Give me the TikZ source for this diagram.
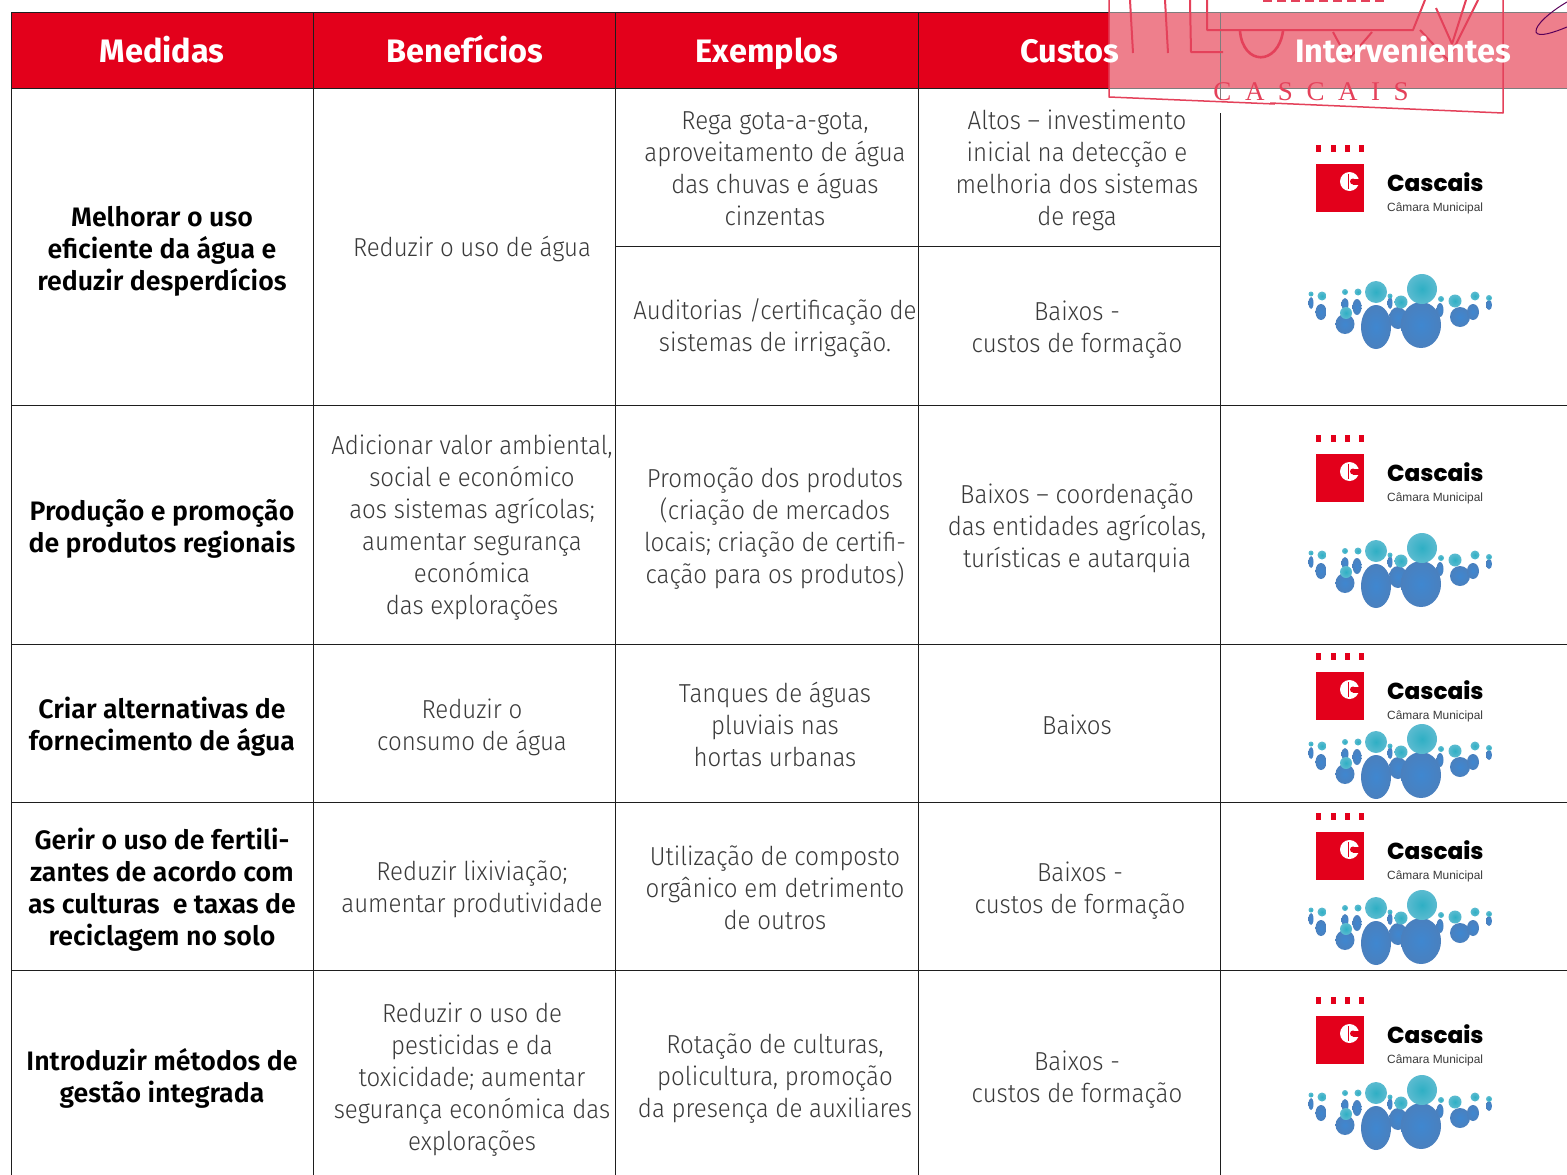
\documentclass[tikz,border=0pt]{standalone}
\usepackage{fontspec}
\setmainfont{Fira Sans Light}[FakeStretch=0.925]
\newfontfamily\headf{Fira Sans SemiBold}
\newfontfamily\capf{Fira Sans}[UprightFont=* Bold]
\newfontfamily\logof{Poppins ExtraBold}
\newfontfamily\logosub{Liberation Sans}
\newfontfamily\stampf{Liberation Serif}
\usetikzlibrary{shapes.geometric}
\definecolor{cred}{HTML}{E3001B}
\definecolor{cpink}{HTML}{EE7F8C}
\definecolor{stamp}{HTML}{E4415A}
\definecolor{grid}{HTML}{1E1E1E}
\definecolor{gridp}{HTML}{7D7D7D}
\definecolor{txt}{HTML}{3A3A3A}
\definecolor{pbody}{HTML}{3F87D0}
\definecolor{pbodyd}{HTML}{4A80BE}
\definecolor{phead}{HTML}{2FAFC4}
\definecolor{pheadl}{HTML}{5BBBD0}
\newcommand{\bodyfs}{\fontsize{26}{32}\selectfont}
\newcommand{\boldfs}{\fontsize{26.7}{32}\selectfont\headf}
\newcommand{\headfs}{\fontsize{32.5}{36}\selectfont\capf}
\newcommand{\person}[7]{%
 \shade[inner color=pbody,outer color=pbodyd] (#1,#2) ellipse [x radius=#3,y radius=#4];
 \shade[inner color=phead,outer color=pheadl] (#5,#6) circle [radius=#7];}
\newcommand{\logoblock}[2]{%
 \begin{scope}[shift={(0,#1)}]
  \foreach \dx in {1316,1330.5,1345,1359} \fill[cred] (\dx,0) rectangle ++(5,7);
  \fill[cred] (1316,19) rectangle (1364,67);
  \fill[white] (1349.5,36.5) circle [radius=9.5];
  \fill[cred] (1353,36.5) circle [radius=3];
  \fill[cred] (1353,33.5) rectangle (1361,39.5);
  \fill[cred] (1347.5,29) rectangle (1348.7,44);
  \node[anchor=base west,inner sep=0,text=black,font=\fontsize{23.1}{24}\logof] at (1387,46) {Cascais};
  \node[anchor=base west,inner sep=0,text=txt,font=\fontsize{11.9}{13}\logosub] at (1387,66.5) {Câmara Municipal};
 \end{scope}
 \begin{scope}[shift={(1307,#2)}]
  \person{4}{29}{2.5}{6}{4}{20}{2.5}
  \person{14}{38}{5.5}{8}{15}{22}{4.5}
  \person{38}{30}{3.5}{6}{38}{18}{3}
  \person{50}{33}{4.5}{8}{51}{18}{3.5}
  \person{38}{50}{9.5}{10}{39}{39}{6}
  \person{83}{29}{2.5}{6}{83}{22}{2.5}
  \person{69}{53}{15}{22}{69}{18}{11}
  \person{91}{44}{9}{11}{94}{28}{6.5}
  \person{114}{51}{20}{23}{115}{15}{15}
  \person{133}{36}{3.5}{7}{134}{25}{3}
  \person{153}{43}{10}{10}{148}{27}{6.5}
  \person{166}{38}{6}{8}{168}{22}{4.5}
  \person{182}{31}{3}{5}{182}{24}{3}
 \end{scope}}
\tikzset{
 gridline/.style={draw=grid,line width=0.9pt},
 gridpink/.style={draw=gridp,line width=0.9pt},
 stampline/.style={draw=stamp,line width=2pt,line join=round},
 headcell/.style={text=white,font=\headfs,inner sep=0,align=center,anchor=base},
 boldcell/.style={text=black,font=\boldfs,inner sep=0,align=center,yshift=-2.5pt},
 cell/.style={text=txt,font=\bodyfs,inner sep=0,align=center,yshift=-1.5pt}
}
\begin{document}
\begin{tikzpicture}[x=1pt,y=-1pt]
\useasboundingbox (0,0) rectangle (1567,1175);
\fill[white] (0,0) rectangle (1567,1175);
% header
\fill[cred] (11.5,12) rectangle (1109,88);
\fill[cpink] (1109,12) rectangle (1567,88);
% grid
\draw[gridline] (11.5,12) -- (1109,12);
\draw[gridline] (11.5,88) -- (1109,88);
\draw[gridpink] (1109,12) -- (1567,12);
\draw[gridpink] (1109,88) -- (1567,88);
\draw[gridline] (11.5,405) -- (1567,405);
\draw[gridline] (11.5,644) -- (1567,644);
\draw[gridline] (11.5,802) -- (1567,802);
\draw[gridline] (11.5,970) -- (1567,970);
\draw[gridline] (615.5,246) -- (1220.5,246);
\foreach \gx in {11.5,313.5,615.5,918.5} \draw[gridline] (\gx,12) -- (\gx,1175);
\draw[gridpink] (1220.5,12) -- (1220.5,100);
\draw[gridline] (1220.5,113) -- (1220.5,1175);
% stamp
\begin{scope}[stampline]
 \draw[line width=1.5pt] (1109,0) -- (1109,97) -- (1180,100) -- (1275,104);
 \draw[line width=1.5pt] (1270,103) -- (1503,113) -- (1503,0);
 \draw (1130,0) -- (1133,53);
 \draw (1165,0) -- (1168,53);
 \draw (1190,0) -- (1191,52) -- (1223,52);
 \draw (1207,0) -- (1207,30) -- (1413,30) -- (1425,0);
 \draw[line width=2.6pt] (1240,31) .. controls (1243,66) and (1278,66) .. (1283,31);
 \draw (1333,32) -- (1348,60) -- (1372,32);
 \draw (1420,30) -- (1448,60) -- (1478,0);
 \draw (1436,8) -- (1452,44) -- (1466,0);
 \draw[dash pattern=on 9pt off 5pt] (1263,0.5) -- (1385,0.5);
\end{scope}
\node[anchor=center,inner sep=0,text=stamp,font=\fontsize{27}{28}\stampf] (stamptxt) at (1311,92) {C\,\,\,A\,\,\,S\,\,\,C\,\,\,A\,\,\,I\,\,\,S};
\draw[draw=violet!70!black,line width=1pt] (1567,2) .. controls (1550,12) and (1535,25) .. (1536,32) .. controls (1538,38) and (1555,32) .. (1567,27);
% header labels
\node[headcell] (h1) at (162,62) {Medidas};
\node[headcell] (h2) at (465,62) {Benefícios};
\node[headcell] (h3) at (767,62) {Exemplos};
\node[headcell] (h4) at (1070,62) {Custos};
\node[headcell] (h5) at (1403,62) {Intervenientes};
% row 1
\node[boldcell] (a1) at (162,249) {Melhorar o uso\\eficiente da água e\\reduzir desperdícios};
\node[cell] (b1) at (472,247) {Reduzir o uso de água};
\node[cell] (c1a) at (775,167) {Rega gota-a-gota,\\aproveitamento de água\\das chuvas e águas\\cinzentas};
\node[cell] (d1a) at (1077,169) {Altos – investimento\\inicial na detecção e\\melhoria dos sistemas\\de rega};
\node[cell] (c1b) at (775,327) {Auditorias /certificação de\\sistemas de irrigação.};
\node[cell] (d1b) at (1077,328) {Baixos -\\custos de formação};
% row 2
\node[boldcell] (a2) at (162,526) {Produção e promoção\\de produtos regionais};
\node[cell] (b2) at (472,526) {Adicionar valor ambiental,\\social e económico\\aos sistemas agrícolas;\\aumentar segurança\\económica\\das explorações};
\node[cell] (c2) at (775,527) {Promoção dos produtos\\(criação de mercados\\locais; criação de certifi-\\cação para os produtos)};
\node[cell] (d2) at (1077,527) {Baixos – coordenação\\das entidades agrícolas,\\turísticas e autarquia};
% row 3
\node[boldcell] (a3) at (162,724) {Criar alternativas de\\fornecimento de água};
\node[cell] (b3) at (472,726) {Reduzir o\\consumo de água};
\node[cell] (c3) at (775,723) {Tanques de águas\\pluviais nas\\hortas urbanas};
\node[cell] (d3) at (1077,723.5) {Baixos};
% row 4
\node[boldcell] (a4) at (162,887) {Gerir o uso de fertili-\\zantes de acordo com\\as culturas\ \ e taxas de\\reciclagem no solo};
\node[cell] (b4) at (472,888) {Reduzir lixiviação;\\aumentar produtividade};
\node[cell] (c4) at (775,886.5) {Utilização de composto\\orgânico em detrimento\\de outros};
\node[cell] (d4) at (1080,889) {Baixos -\\custos de formação};
% row 5
\node[boldcell] (a5) at (162,1076) {Introduzir métodos de\\gestão integrada};
\node[cell] (b5) at (472,1078) {Reduzir o uso de\\pesticidas e da\\toxicidade; aumentar\\segurança económica das\\explorações};
\node[cell] (c5) at (775,1077) {Rotação de culturas,\\policultura, promoção\\da presença de auxiliares};
\node[cell] (d5) at (1077,1078) {Baixos -\\custos de formação};
% logos
\logoblock{145}{274}
\logoblock{435}{533}
\logoblock{653}{724}
\logoblock{813}{890}
\logoblock{997}{1075}
\end{tikzpicture}
\end{document}
